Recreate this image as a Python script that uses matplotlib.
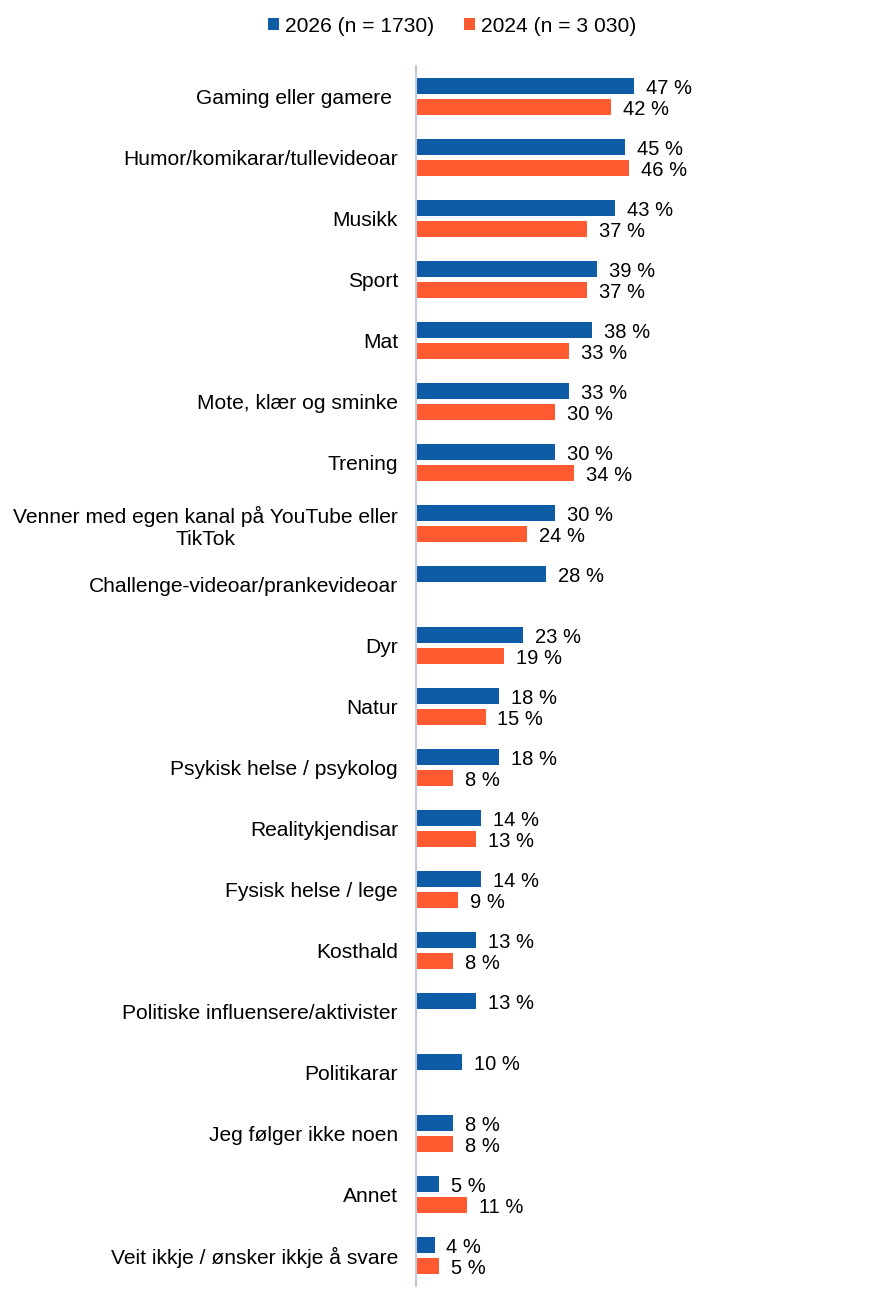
import numpy as np
import matplotlib
matplotlib.use("Agg")
import matplotlib.pyplot as plt

plt.rcParams['font.family'] = ['Liberation Sans', 'DejaVu Sans']

categories = [
    "Gaming eller gamere ",
    "Humor/komikarar/tullevideoar",
    "Musikk",
    "Sport",
    "Mat",
    "Mote, klær og sminke",
    "Trening",
    "Venner med egen kanal på YouTube eller\nTikTok",
    "Challenge-videoar/prankevideoar",
    "Dyr",
    "Natur",
    "Psykisk helse / psykolog",
    "Realitykjendisar",
    "Fysisk helse / lege",
    "Kosthald",
    "Politiske influensere/aktivister",
    "Politikarar",
    "Jeg følger ikke noen",
    "Annet",
    "Veit ikkje / ønsker ikkje å svare",
]
values_2026 = [47, 45, 43, 39, 38, 33, 30, 30, 28, 23, 18, 18, 14, 14, 13, 13, 10, 8, 5, 4]
values_2024 = [42, 46, 37, 37, 33, 30, 34, 24, np.nan, 19, 15, 8, 13, 9, 8, np.nan, np.nan, 8, 11, 5]
series_labels = ["2026 (n = 1730)", "2024 (n = 3 030)"]

BLUE = "#0E5BA6"
ORANGE = "#FF5A30"
FS_CAT = 15.1
FS_VAL = 14.5
FS_LEG = 15.1

W, H = 881, 1295
fig = plt.figure(figsize=(W / 100, H / 100), dpi=100)
# axes placed in pixel terms so the bars line up with the reference
px_per_pct = 4.635
xmax = 95
ax = fig.add_axes([416 / W, 9 / H, xmax * px_per_pct / W, 1220 / H])

y = np.arange(len(categories))
bh = 0.262
off = 0.172
v26 = np.array(values_2026, dtype=float)
v24 = np.array(values_2024, dtype=float)

ax.barh(y - off, v26, height=bh, color=BLUE, label=series_labels[0])
ax.barh(y + off, np.nan_to_num(v24), height=bh, color=ORANGE, label=series_labels[1])

for yy, v in zip(y - off, v26):
    ax.annotate(f"{v:.0f} %", (v, yy), xytext=(8.6, -1.6), textcoords="offset points",
                va="center", ha="left", fontsize=FS_VAL)
for yy, v in zip(y + off, v24):
    if np.isnan(v):
        continue
    ax.annotate(f"{v:.0f} %", (v, yy), xytext=(8.6, -1.6), textcoords="offset points",
                va="center", ha="left", fontsize=FS_VAL)

ax.set_xlim(0, xmax)
ax.set_ylim(len(categories) - 0.5, -0.5)
ax.set_yticks(y)
ax.set_yticklabels(categories, fontsize=FS_CAT, ma="center")
ax.tick_params(axis="y", length=0, pad=13)
ax.set_xticks([])
for s in ["top", "right", "bottom"]:
    ax.spines[s].set_visible(False)
ax.spines["left"].set_color("#BFCCE0")
ax.spines["left"].set_linewidth(1.5)

fig.legend(loc="center", bbox_to_anchor=(452 / W, 1 - 26 / H), ncol=2, frameon=False,
           fontsize=FS_LEG, handlelength=0.52, handleheight=0.52, handletextpad=0.3,
           columnspacing=1.4, borderaxespad=0)

fig.savefig("out.png", dpi=100)
